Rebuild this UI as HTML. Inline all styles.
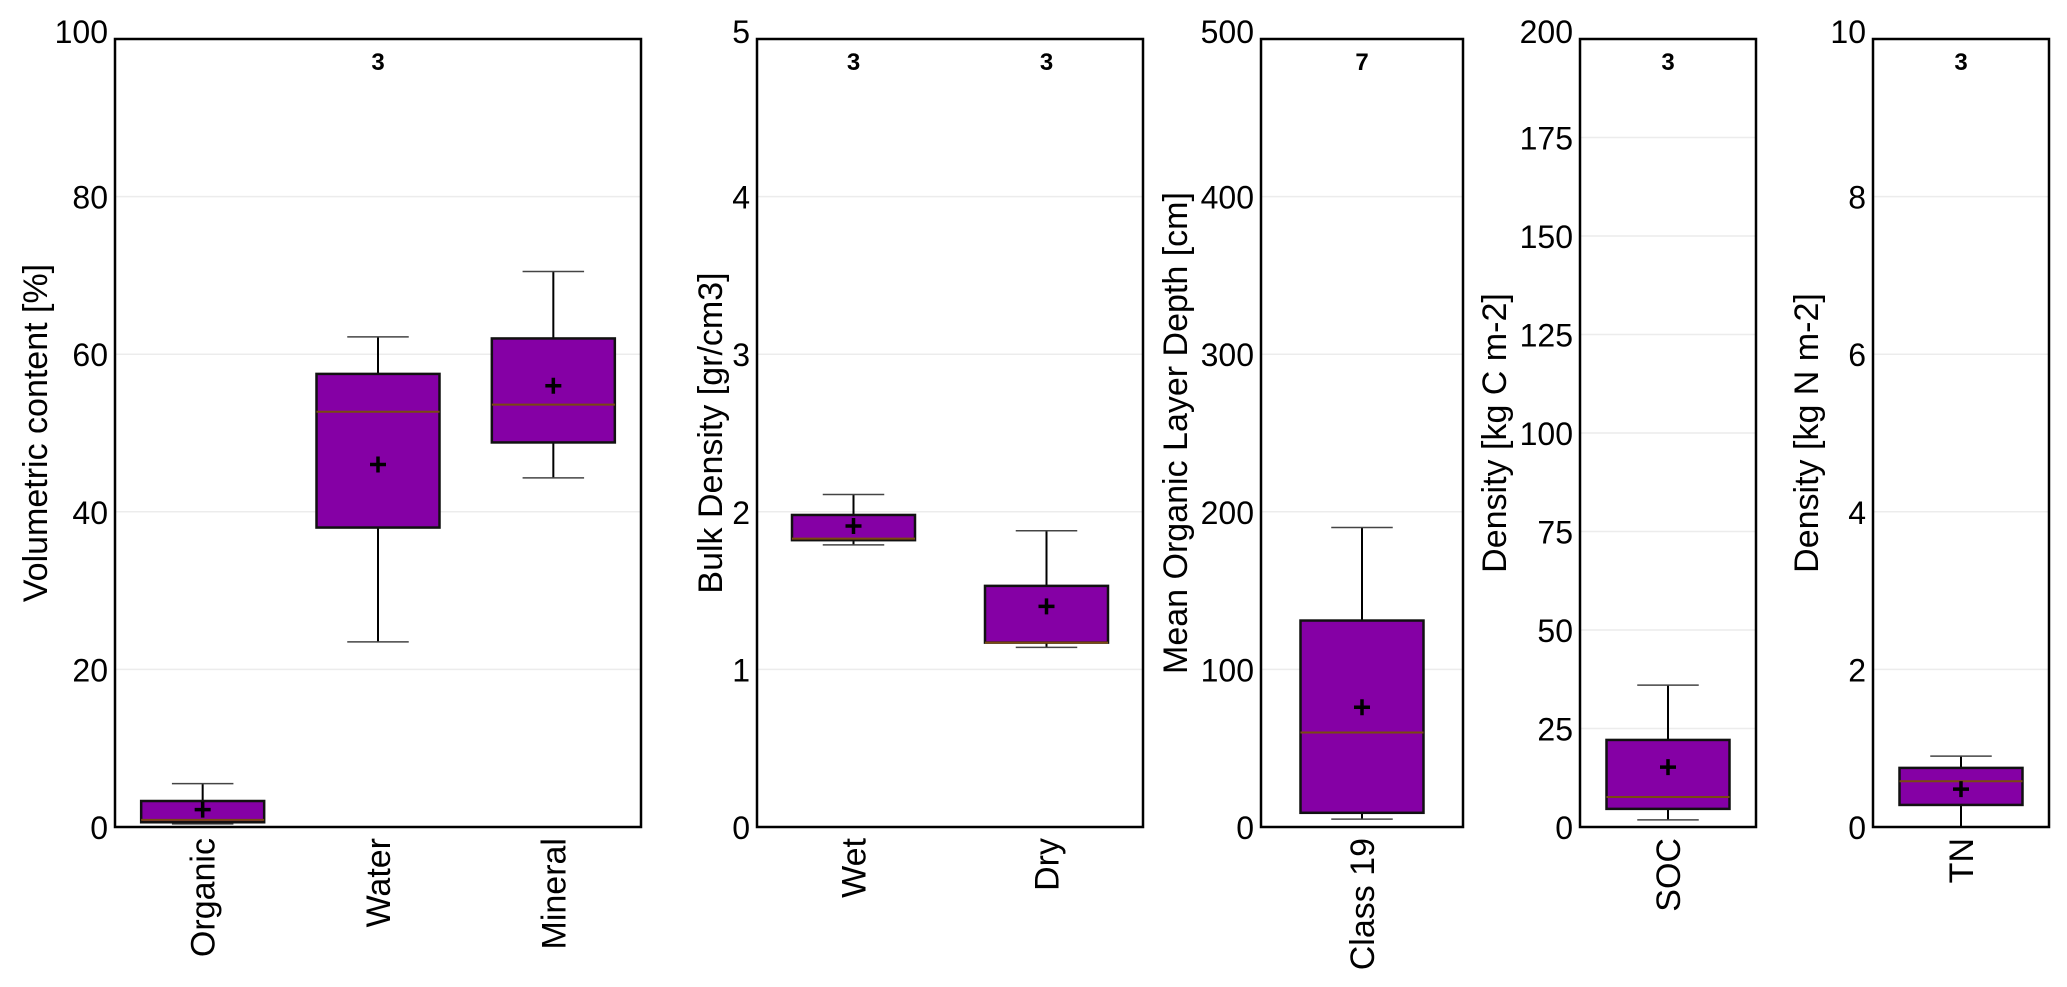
<!DOCTYPE html>
<html><head><meta charset="utf-8"><style>
body{margin:0;background:#fff;}
svg text{font-family:"Liberation Sans",Arial,sans-serif;fill:#000;}
</style></head><body>
<svg id="chart" width="2067" height="982" xmlns="http://www.w3.org/2000/svg"></svg>
<script>
const panelTitles=["Volumetric content [%]","Bulk Density [gr/cm3]","Mean Organic Layer Depth [cm]","Density [kg C m-2]","Density [kg N m-2]"];
const panelMax=[100,5,500,200,10];
const panelTicks=[[0,20,40,60,80,100],[0,1,2,3,4,5],[0,100,200,300,400,500],[0,25,50,75,100,125,150,175,200],[0,2,4,6,8,10]];
const categories=[["Organic","Water","Mineral"],["Wet","Dry"],["Class 19"],["SOC"],["TN"]];
const whiskerLow=[[0.4,23.5,44.3],[1.79,1.14],[5],[1.8],[0]];
const boxLow=[[0.6,38,48.8],[1.82,1.17],[9],[4.6],[0.28]];
const medians=[[0.9,52.7,53.6],[1.83,1.17],[60],[7.6],[0.58]];
const boxHigh=[[3.3,57.5,62],[1.98,1.53],[131],[22.1],[0.75]];
const whiskerHigh=[[5.5,62.2,70.5],[2.11,1.88],[190],[36],[0.9]];
const means=[[2.2,46,56],[1.91,1.40],[76],[15.2],[0.48]];
const counts=[[null,"3",null],["3","3"],["7"],["3"],["3"]];

const layout=[{l:115,r:641,yl:35},{l:757,r:1143,yl:710},{l:1261,r:1463,yl:1175},{l:1580,r:1756,yl:1494},{l:1873,r:2049,yl:1806}];
const TOP=39,BOT=827;
const svg=document.getElementById('chart');
const NS="http://www.w3.org/2000/svg";
function mk(tag,attrs,parent){const e=document.createElementNS(NS,tag);for(const k in attrs)e.setAttribute(k,attrs[k]);(parent||svg).appendChild(e);return e;}

for(let p=0;p<5;p++){
  const L=layout[p];
  const g=mk('g',{});
  
  
  const y=v=>BOT-(v/panelMax[p])*(BOT-TOP);
  const n=categories[p].length;
  const step=(L.r-L.l)/n;
  const x=i=>L.l+step*(i+0.5);
  panelTicks[p].forEach(t=>{
    if(t>0&&t<panelMax[p]){const gl=mk('line',{x1:L.l,x2:L.r,y1:y(t),y2:y(t),stroke:'#ececec','stroke-width':1.5},g);
      
      }
    const off=(t===panelMax[p])?4:12;
    const tt=mk('text',{x:L.l-7,y:y(t)+off,'text-anchor':'end','font-size':32},g);
    tt.textContent=t;
    
    
  });
  const yt=mk('text',{x:L.yl,y:(TOP+BOT)/2,'text-anchor':'middle','font-size':34,transform:`rotate(-90 ${L.yl} ${(TOP+BOT)/2})`,dy:12},g);
  yt.textContent=panelTitles[p];
  
  
  const bw=Math.min(step*0.72,123), cw=bw*0.5;
  for(let i=0;i<n;i++){
    const cx=x(i);
    const bg=mk('g',{},g);
    
    
    mk('line',{x1:cx,x2:cx,y1:y(whiskerLow[p][i]),y2:y(whiskerHigh[p][i]),stroke:'#000','stroke-width':2},bg);
    mk('line',{x1:cx-cw/2,x2:cx+cw/2,y1:y(whiskerLow[p][i]),y2:y(whiskerLow[p][i]),stroke:'#444','stroke-width':1.5},bg);
    mk('line',{x1:cx-cw/2,x2:cx+cw/2,y1:y(whiskerHigh[p][i]),y2:y(whiskerHigh[p][i]),stroke:'#444','stroke-width':1.5},bg);
    mk('rect',{x:cx-bw/2,y:y(boxHigh[p][i]),width:bw,height:y(boxLow[p][i])-y(boxHigh[p][i]),fill:'#8500a5',stroke:'#111','stroke-width':2.5},bg);
    mk('line',{x1:cx-bw/2,x2:cx+bw/2,y1:y(medians[p][i]),y2:y(medians[p][i]),stroke:'#7a4a10','stroke-width':2},bg);
    const my=y(means[p][i]);
    mk('path',{d:`M${cx-8} ${my}H${cx+8}M${cx} ${my-8}V${my+8}`,stroke:'#000','stroke-width':3.5},bg);
    if(counts[p][i]){const ct=mk('text',{x:cx,y:70,'text-anchor':'middle','font-size':24,'font-weight':'bold'},g);
      ct.textContent=counts[p][i];
      
      }
    const xl=mk('text',{x:cx,y:838,'text-anchor':'end','font-size':34,transform:`rotate(-90 ${cx} 838)`,dy:12},g);
    xl.textContent=categories[p][i];
    
    
  }
  const fr=mk('rect',{x:L.l,y:TOP,width:L.r-L.l,height:BOT-TOP,fill:'none',stroke:'#000','stroke-width':2.5},g);
  
  
}
</script>
</body></html>
